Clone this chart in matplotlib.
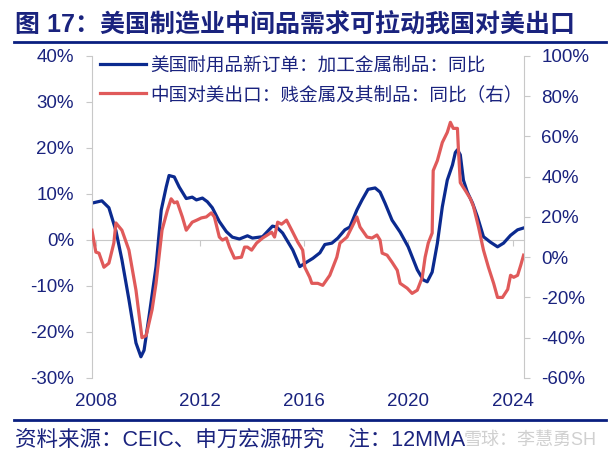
import numpy as np
import matplotlib
matplotlib.use('Agg')
import matplotlib.pyplot as plt
from matplotlib.ticker import FuncFormatter

plt.rcParams['font.family'] = ['Liberation Sans', 'Noto Sans CJK SC', 'DejaVu Sans']

# 美国耐用品新订单：加工金属制品：同比 (left axis, %)
us_t = [2007.85, 2008.23, 2008.50, 2008.77, 2009.00, 2009.27, 2009.54, 2009.73, 2009.85, 2010.04,
        2010.31, 2010.51, 2010.70, 2010.81, 2011.01, 2011.20, 2011.47, 2011.70, 2011.86, 2012.09,
        2012.28, 2012.47, 2012.74, 2013.01, 2013.24, 2013.51, 2013.82, 2014.01, 2014.40, 2014.78,
        2014.94, 2015.17, 2015.56, 2015.83, 2016.10, 2016.33, 2016.60, 2016.79, 2017.06, 2017.29,
        2017.56, 2017.75, 2018.02, 2018.22, 2018.45, 2018.72, 2018.91, 2019.10, 2019.37, 2019.68,
        2019.99, 2020.34, 2020.57, 2020.72, 2020.91, 2021.11, 2021.30, 2021.49, 2021.69, 2021.80,
        2021.88, 2021.99, 2022.11, 2022.26, 2022.46, 2022.65, 2022.88, 2023.15, 2023.42, 2023.65,
        2023.92, 2024.19, 2024.42]
us_v = [8.0, 8.5, 7.0, 2.0, -4.3, -13.0, -22.4, -25.4, -24.0, -16.7,
        -5.8, 6.5, 11.5, 14.0, 13.7, 11.5, 9.0, 9.3, 8.7, 9.1,
        8.3, 7.0, 4.0, 1.8, 0.6, 0.2, 0.9, 0.4, 0.7, 3.0,
        2.8, 1.5, -2.2, -5.8, -4.8, -4.0, -2.8, -1.0, -0.7, 0.4,
        2.2, 2.8, 6.5, 8.7, 11.0, 11.3, 10.4, 8.0, 4.3, 1.7,
        -1.5, -6.5, -8.7, -9.1, -7.0, -0.7, 7.2, 13.0, 16.3, 19.0,
        19.6, 18.5, 13.0, 10.4, 8.0, 5.0, 0.7, -0.5, -1.5, -0.7,
        1.0, 2.2, 2.6]

# 中国对美出口：贱金属及其制品：同比 (right axis, %)
cn_t = [2007.85, 2008.00, 2008.12, 2008.31, 2008.50, 2008.69, 2008.77, 2009.00, 2009.27, 2009.54,
        2009.77, 2009.93, 2010.16, 2010.31, 2010.54, 2010.74, 2010.89, 2011.01, 2011.12, 2011.32,
        2011.47, 2011.70, 2011.89, 2012.05, 2012.24, 2012.43, 2012.55, 2012.74, 2012.86, 2013.01,
        2013.13, 2013.32, 2013.59, 2013.71, 2013.82, 2013.98, 2014.17, 2014.40, 2014.75, 2014.86,
        2014.98, 2015.13, 2015.32, 2015.52, 2015.75, 2015.94, 2016.02, 2016.21, 2016.29, 2016.52,
        2016.71, 2016.98, 2017.25, 2017.37, 2017.64, 2017.87, 2018.02, 2018.14, 2018.41, 2018.60,
        2018.79, 2018.91, 2018.99, 2019.18, 2019.37, 2019.57, 2019.68, 2019.95, 2020.14, 2020.34,
        2020.53, 2020.64, 2020.76, 2020.91, 2020.95, 2021.11, 2021.30, 2021.49, 2021.61, 2021.72,
        2021.88, 2021.92, 2021.99, 2022.19, 2022.38, 2022.50, 2022.69, 2022.88, 2023.07, 2023.27,
        2023.42, 2023.61, 2023.81, 2023.92, 2024.04, 2024.19, 2024.31, 2024.42]
cn_v = [13.4, 2.5, 2.0, -5.0, -3.0, 7.0, 17.0, 13.4, 3.5, -16.4,
        -40.0, -39.0, -26.0, -13.0, 13.4, 23.0, 29.0, 27.0, 27.5, 20.0,
        13.4, 17.4, 18.5, 19.5, 20.0, 22.0, 20.0, 10.0, 8.5, 9.5,
        5.0, -0.5, 0.0, 5.0, 5.0, 3.5, 7.0, 9.5, 12.4, 10.0,
        17.4, 16.4, 18.4, 13.4, 7.5, 3.5, -5.0, -10.0, -13.0, -13.0,
        -14.0, -9.0, 0.0, 7.0, 10.0, 16.0, 20.0, 15.0, 10.0, 9.5,
        11.0, 8.5, 2.0, 1.0, -2.5, -6.5, -13.0, -15.4, -18.0, -16.4,
        -10.0, 0.0, 7.0, 12.0, 43.0, 48.0, 57.0, 62.0, 67.0, 64.0,
        64.0, 53.0, 37.0, 33.0, 29.0, 25.0, 15.0, 3.5, -5.0, -13.0,
        -20.0, -20.0, -16.0, -9.0, -10.0, -9.0, -4.0, 1.0]

years = [2008, 2012, 2016, 2020, 2024]
left_ticks = [-30, -20, -10, 0, 10, 20, 30, 40]
right_ticks = [-60, -40, -20, 0, 20, 40, 60, 80, 100]
labels = ['美国耐用品新订单：加工金属制品：同比', '中国对美出口：贱金属及其制品：同比（右）']

navy = '#1a237e'
blue = '#0b2a8f'
red = '#e05a5a'
grey = '#c8c8c8'
fam = ['Liberation Sans', 'Noto Sans CJK SC']

fig = plt.figure(figsize=(6.13, 4.66), dpi=100)
ax = fig.add_axes([0.150, 0.189, 0.705, 0.691])
ax2 = ax.twinx()

l1, = ax.plot(us_t, us_v, color=blue, lw=2.3, solid_joinstyle='round')
l2, = ax2.plot(cn_t, cn_v, color=red, lw=2.3, solid_joinstyle='round')

ax.set_xlim(2007.85, 2024.44)
ax.set_ylim(-30, 40)
ax2.set_ylim(-60, 100)
ax.set_yticks(left_ticks)
ax2.set_yticks(right_ticks)
ax.yaxis.set_major_formatter(FuncFormatter(lambda v, p: f'{v:.0f}%'))
ax2.yaxis.set_major_formatter(FuncFormatter(lambda v, p: f'{v:.0f}%'))
ax.set_xticks(years)
ax.set_xticklabels([str(y) for y in years])

for a in (ax, ax2):
    for s in a.spines.values():
        s.set_visible(False)
ax.spines['left'].set_visible(True)
ax.spines['left'].set_color(grey)
ax2.spines['right'].set_visible(True)
ax2.spines['right'].set_color(grey)

ax.tick_params(axis='y', colors=grey, labelcolor=navy, labelsize=13.5, length=4, pad=9)
ax2.tick_params(axis='y', colors=grey, labelcolor=navy, labelsize=13.5, length=4, pad=8.5)
ax.tick_params(axis='x', length=0, labelcolor=navy, labelsize=13.5, pad=11)

# horizontal axis line at 0% with year ticks
sec = ax.secondary_xaxis(30 / 70)
sec.set_xticks(years)
sec.set_xticklabels([])
sec.spines['bottom'].set_color(grey)
sec.tick_params(axis='x', colors=grey, length=4, direction='out')

leg = ax2.legend([l1, l2], labels,
                 loc='upper left', bbox_to_anchor=(0.018, 0.997), frameon=False,
                 prop={'size': 13.4, 'family': fam},
                 handlelength=2.5, handletextpad=0.2, labelspacing=0.62, borderpad=0, borderaxespad=0)
for t in leg.get_texts():
    t.set_color(navy)

fig.text(0.024, 0.946, '图 17：美国制造业中间品需求可拉动我国对美出口', color=navy, fontsize=18,
         fontweight='bold', ha='left', va='center', family=fam)
fig.add_artist(plt.Line2D([0.023, 0.989], [0.909, 0.909], color='#0a1f80', lw=2))
fig.add_artist(plt.Line2D([0.023, 0.989], [0.099, 0.099], color='#0a1f80', lw=2))
fig.text(0.024, 0.056, '资料来源：CEIC、申万宏源研究    注：12MMA', color=navy, fontsize=15.5,
         ha='left', va='center', family=fam)
fig.text(0.974, 0.056, '雪球：李慧勇SH', color='#d0d0d0', fontsize=13, ha='right', va='center',
         family=fam)

fig.savefig('out.png', dpi=100)
